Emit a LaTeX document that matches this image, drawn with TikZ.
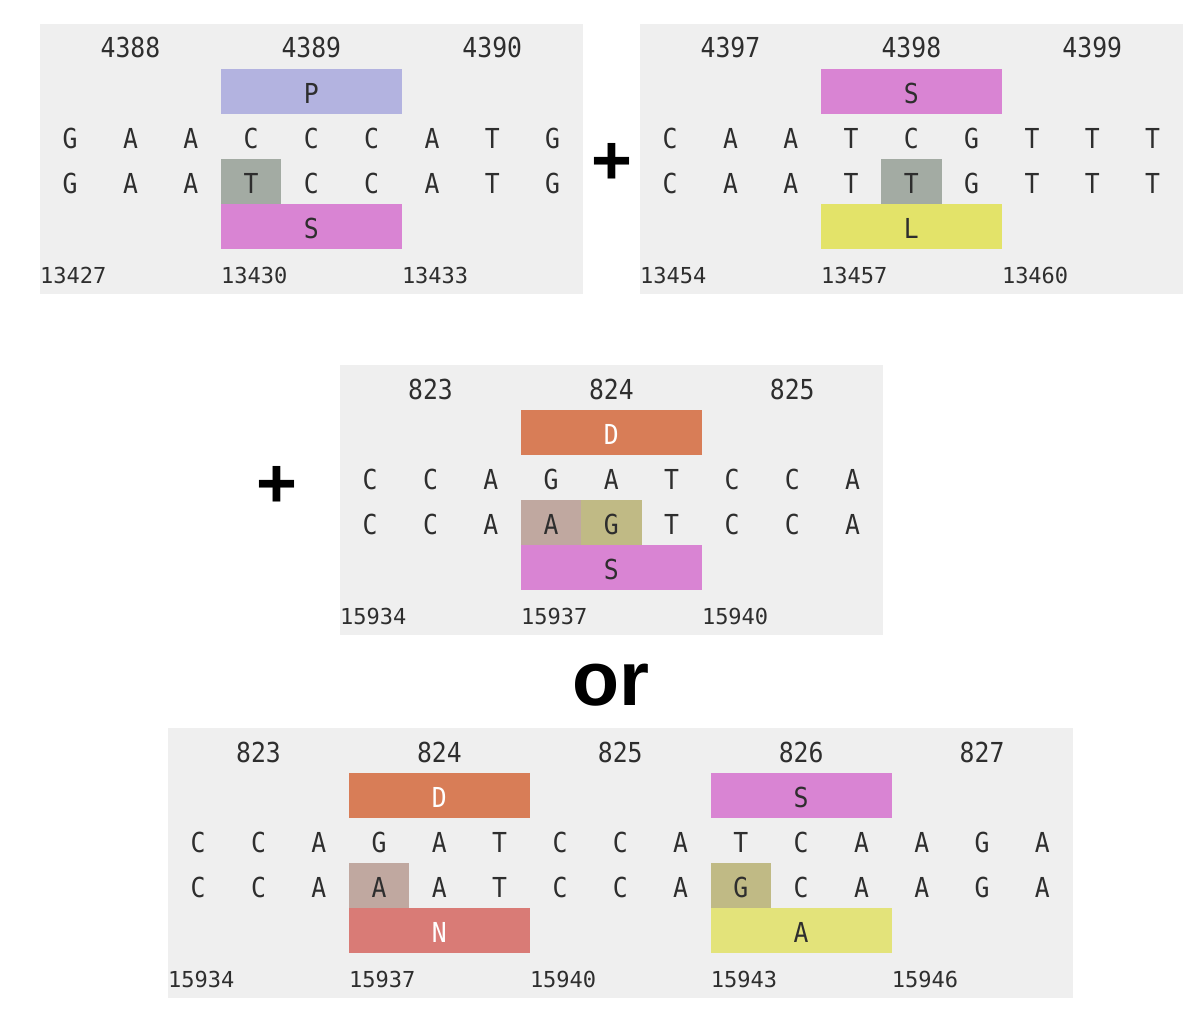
\documentclass[tikz,border=0pt]{standalone}
\usepackage{fontspec}
\setmonofont{DejaVu Sans Mono}
\newfontfamily\seqfont{DejaVu Sans Mono}[FakeStretch=0.9]
\setsansfont{Liberation Sans}
\definecolor{txt}{HTML}{2E2E2E}
\definecolor{pbg}{HTML}{EFEFEF}
\definecolor{cP}{HTML}{B3B3E0}
\definecolor{cS}{HTML}{D984D3}
\definecolor{cT}{HTML}{A3ABA3}
\definecolor{cL}{HTML}{E3E369}
\definecolor{cD}{HTML}{D87D57}
\definecolor{cAb}{HTML}{C0A8A0}
\definecolor{cG}{HTML}{C0BA85}
\definecolor{cN}{HTML}{D97B76}
\definecolor{cAy}{HTML}{E3E37A}
\newcommand\colw{60.3}
\newcommand\seqrow[4]{\foreach \c [count=\i from 0] in {#4} {\node[cell] (#1c\i) at ({#2+(\i+0.5)*\colw},{#3+22.5}) {\c};}}
\tikzset{
  cell/.style={inner sep=0pt, minimum width=60.3pt, minimum height=45pt, text height=23pt, text depth=0pt, text=txt, font=\seqfont\fontsize{27.5}{27.5}\selectfont},
  topnum/.style={cell},
  botnum/.style={inner sep=0pt, anchor=base west, text=txt, font=\ttfamily\fontsize{22}{22}\selectfont},
  box/.style={cell, minimum width=180.9pt},
  hl/.style={inner sep=0pt, minimum width=60.3pt, minimum height=45pt},
  panel9/.style={fill=pbg, inner sep=0pt, anchor=north west, minimum width=542.7pt, minimum height=270pt},
  panel15/.style={panel9, minimum width=904.5pt},
  bigsym/.style={inner sep=0pt, text=black, font=\sffamily\bfseries\fontsize{70}{70}\selectfont},
  ortext/.style={inner sep=0pt, text=black, font=\sffamily\bfseries\fontsize{77}{77}\selectfont}
}
\begin{document}
\begin{tikzpicture}[x=1pt,y=-1pt]
\useasboundingbox (0,0) rectangle (1200,1025);
\fill[white] (0,0) rectangle (1200,1025);
% ---------- panel 1
\node[panel9] (p1) at (40,24) {};
\foreach \n/\k in {4388/1,4389/4,4390/7} \node[topnum] (p1t\k) at ({40+(\k+0.5)*\colw},{24+22.5}) {\n};
\node[box, fill=cP] (p1P) at ({40+4.5*\colw},{24+67.5}) {P};
\node[hl, fill=cT] (p1h) at ({40+3.5*\colw},{24+157.5}) {};
\seqrow{p1a}{40}{114}{G,A,A,C,C,C,A,T,G}
\seqrow{p1b}{40}{159}{G,A,A,T,C,C,A,T,G}
\node[box, fill=cS] (p1S) at ({40+4.5*\colw},{24+202.5}) {S};
\foreach \n/\k in {13427/0,13430/3,13433/6} \node[botnum] (p1n\k) at ({40+\k*\colw},{24+259}) {\n};
% ---------- plus 1
\node[bigsym] (plus1) at (612,163.5) {+};
% ---------- panel 2
\node[panel9] (p2) at (640,24) {};
\foreach \n/\k in {4397/1,4398/4,4399/7} \node[topnum] (p2t\k) at ({640+(\k+0.5)*\colw},{24+22.5}) {\n};
\node[box, fill=cS] (p2S) at ({640+4.5*\colw},{24+67.5}) {S};
\node[hl, fill=cT] (p2h) at ({640+4.5*\colw},{24+157.5}) {};
\seqrow{p2a}{640}{114}{C,A,A,T,C,G,T,T,T}
\seqrow{p2b}{640}{159}{C,A,A,T,T,G,T,T,T}
\node[box, fill=cL] (p2L) at ({640+4.5*\colw},{24+202.5}) {L};
\foreach \n/\k in {13454/0,13457/3,13460/6} \node[botnum] (p2n\k) at ({640+\k*\colw},{24+259}) {\n};
% ---------- plus 2
\node[bigsym] (plus2) at (277,487) {+};
% ---------- panel 3
\node[panel9] (p3) at (340,365) {};
\foreach \n/\k in {823/1,824/4,825/7} \node[topnum] (p3t\k) at ({340+(\k+0.5)*\colw},{365+22.5}) {\n};
\node[box, fill=cD, text=white] (p3D) at ({340+4.5*\colw},{365+67.5}) {D};
\node[hl, fill=cAb] (p3h1) at ({340+3.5*\colw},{365+157.5}) {};
\node[hl, fill=cG] (p3h2) at ({340+4.5*\colw},{365+157.5}) {};
\seqrow{p3a}{340}{455}{C,C,A,G,A,T,C,C,A}
\seqrow{p3b}{340}{500}{C,C,A,A,G,T,C,C,A}
\node[box, fill=cS] (p3S) at ({340+4.5*\colw},{365+202.5}) {S};
\foreach \n/\k in {15934/0,15937/3,15940/6} \node[botnum] (p3n\k) at ({340+\k*\colw},{365+259}) {\n};
% ---------- or
\node[ortext] (or) at (611,685.5) {or};
% ---------- panel 4
\node[panel15] (p4) at (168,728) {};
\foreach \n/\k in {823/1,824/4,825/7,826/10,827/13} \node[topnum] (p4t\k) at ({168+(\k+0.5)*\colw},{728+22.5}) {\n};
\node[box, fill=cD, text=white] (p4D) at ({168+4.5*\colw},{728+67.5}) {D};
\node[box, fill=cS] (p4S) at ({168+10.5*\colw},{728+67.5}) {S};
\node[hl, fill=cAb] (p4h1) at ({168+3.5*\colw},{728+157.5}) {};
\node[hl, fill=cG] (p4h2) at ({168+9.5*\colw},{728+157.5}) {};
\seqrow{p4a}{168}{818}{C,C,A,G,A,T,C,C,A,T,C,A,A,G,A}
\seqrow{p4b}{168}{863}{C,C,A,A,A,T,C,C,A,G,C,A,A,G,A}
\node[box, fill=cN, text=white] (p4N) at ({168+4.5*\colw},{728+202.5}) {N};
\node[box, fill=cAy] (p4A) at ({168+10.5*\colw},{728+202.5}) {A};
\foreach \n/\k in {15934/0,15937/3,15940/6,15943/9,15946/12} \node[botnum] (p4n\k) at ({168+\k*\colw},{728+259}) {\n};
\end{tikzpicture}
\end{document}
